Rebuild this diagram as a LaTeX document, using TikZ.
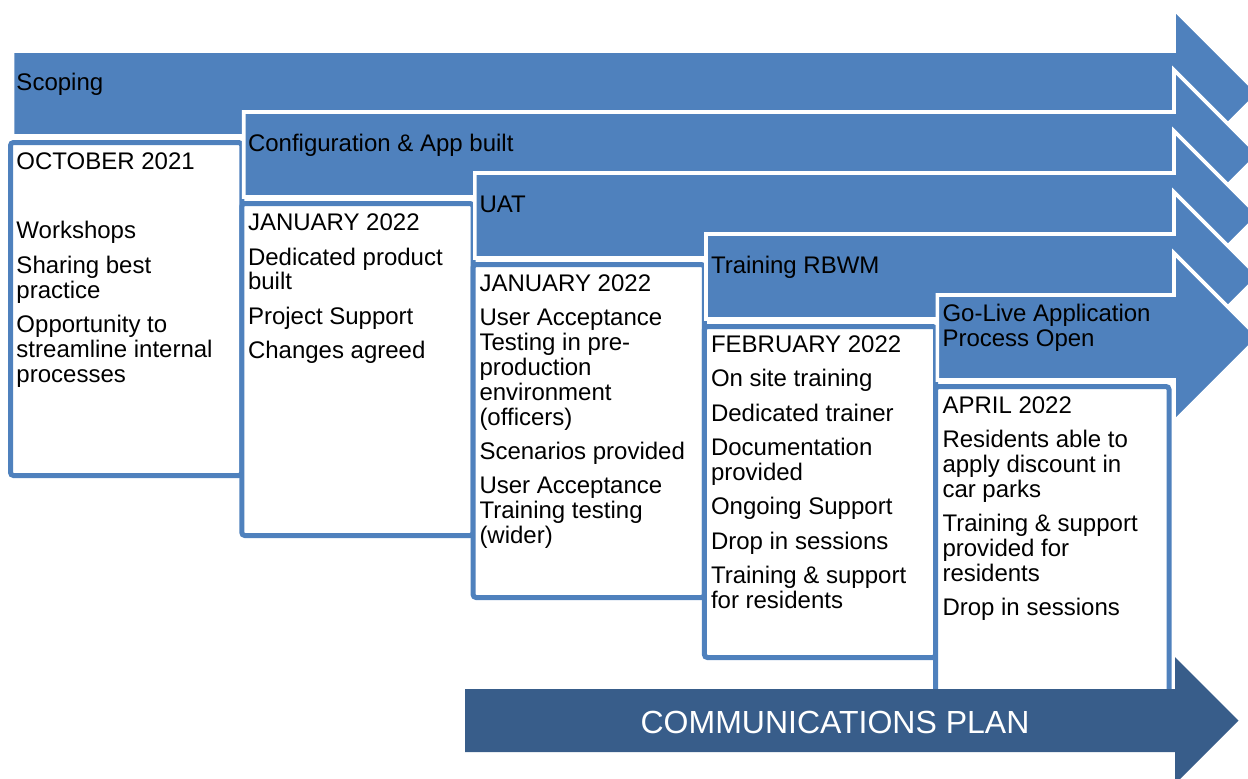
\documentclass[tikz,border=0pt]{standalone}
\usepackage{fontspec}
\setmainfont{Liberation Sans}
\definecolor{phaseblue}{HTML}{4F81BD}
\definecolor{commblue}{HTML}{385D8A}
\definecolor{cardblue}{HTML}{4F81BD}
\newcommand\mytxtfont{\fontsize{12}{12.4}\selectfont\lineskiplimit=-20pt\relax\lineskip=0pt\relax}
\begin{document}
\begin{tikzpicture}[x=0.5pt,y=-0.5pt,
  phase/.style={fill=phaseblue, draw=white, line width=1.8pt, line join=miter},
  card/.style={fill=white, draw=cardblue, line width=2.5pt, rounded corners=1.5pt},
  comm/.style={fill=commblue},
  txt/.style={anchor=north west, inner sep=0pt, outer sep=0pt, align=left, text=black, font=\mytxtfont},
  commtxt/.style={anchor=base, inner sep=0pt, outer sep=0pt, text=white, font=\fontsize{16}{19}\selectfont}]
\useasboundingbox (0,0) rectangle (1248,778);
\clip (0,0) rectangle (1248,778);
% phase 1
\path[phase] (12.5,51) -- (1174,51) -- (1174,9) -- (1258.5,93.5) -- (1174,178) -- (1174,136) -- (12.5,136) -- cycle;
\path[card] (10.5,142.5) rectangle (241.8,475.5);
% phase 2
\path[phase] (243.7,112) -- (1174,112) -- (1174,70) -- (1258.5,154.5) -- (1174,239) -- (1174,197) -- (243.7,197) -- cycle;
\path[card] (241.8,203.5) rectangle (473.1,535.5);
% phase 3
\path[phase] (474.9,173) -- (1174,173) -- (1174,131) -- (1258.5,215.5) -- (1174,300) -- (1174,258) -- (474.9,258) -- cycle;
\path[card] (473.1,264.5) rectangle (704.4,597.5);
% phase 4
\path[phase] (706,234) -- (1174,234) -- (1174,192) -- (1258.5,276.5) -- (1174,361) -- (1174,319) -- (706,319) -- cycle;
\path[card] (704.4,326.5) rectangle (935.7,657.5);
% phase 5
\path[phase] (937.3,295) -- (1174,295) -- (1174,253) -- (1258.5,337.5) -- (1174,422) -- (1174,380) -- (937.3,380) -- cycle;
\path[card] (935.7,386.5) rectangle (1169,718);
% communications arrow
\path[comm] (465,689) -- (1175,689) -- (1175,657) -- (1238.5,720.5) -- (1175,784) -- (1175,752) -- (465,752) -- cycle;
\node[commtxt] (comm) at (835,733.5) {COMMUNICATIONS PLAN};
% phase labels
\node[txt] (l1) at (16.5,73.6) {\strut Scoping};
\node[txt] (l2) at (248,134.4) {\strut Configuration \& App built};
\node[txt] (l3) at (479.5,195.2) {\strut UAT};
\node[txt] (l4) at (711,256) {\strut Training RBWM};
\node[txt] (l5) at (942.5,304.4) {\strut Go-Live Application\\Process Open};
% box texts
\node[txt] (b1) at (16.5,152.6) {\strut OCTOBER 2021\\[22.1pt]
Workshops\\[4.8pt]
Sharing best\\practice\\[4.8pt]
Opportunity to\\streamline internal\\processes};
\node[txt] (b2) at (248,213.4) {\strut JANUARY 2022\\[4.8pt]
Dedicated product\\built\\[4.8pt]
Project Support\\[4.8pt]
Changes agreed};
\node[txt] (b3) at (479.5,274.2) {\strut JANUARY 2022\\[4.8pt]
User Acceptance\\Testing in pre-\\production\\environment\\(officers)\\[4.8pt]
Scenarios provided\\[4.8pt]
User Acceptance\\Training testing\\(wider)};
\node[txt] (b4) at (711,335) {\strut FEBRUARY 2022\\[4.8pt]
On site training\\[4.8pt]
Dedicated trainer\\[4.8pt]
Documentation\\provided\\[4.8pt]
Ongoing Support\\[4.8pt]
Drop in sessions\\[4.8pt]
Training \& support\\for residents};
\node[txt] (b5) at (942.5,395.8) {\strut APRIL 2022\\[4.8pt]
Residents able to\\apply discount in\\car parks\\[4.8pt]
Training \& support\\provided for\\residents\\[4.8pt]
Drop in sessions};
\end{tikzpicture}
\end{document}
